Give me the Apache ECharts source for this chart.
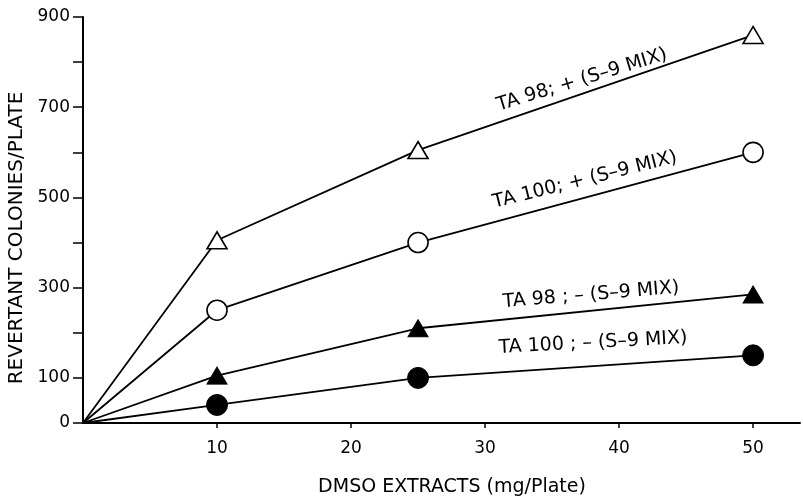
<!DOCTYPE html>
<html><head><meta charset="utf-8">
<script src="https://cdn.jsdelivr.net/npm/echarts@6/dist/echarts.min.js"></script>
<style>html,body{margin:0;padding:0;background:#fff}#c{width:803px;height:498px}</style>
</head><body><div id="c"></div>
<script>
const doses = [0, 10, 25, 50];
const ta98Plus = [0, 405, 605, 860];
const ta100Plus = [0, 250, 400, 600];
const ta98Minus = [0, 105, 210, 285];
const ta100Minus = [0, 40, 100, 150];
const yLabels = [0, 100, 300, 500, 700, 900];
const seriesNames = ['TA 98; + (S–9 MIX)', 'TA 100; + (S–9 MIX)', 'TA 98 ; – (S–9 MIX)', 'TA 100 ; – (S–9 MIX)'];

const font = '"DejaVu Sans", "Open Sans", sans-serif';
function pts(vals) {
  return vals.map((v, i) => i === 0
    ? { value: [doses[i], v], symbol: 'none' }
    : { value: [doses[i], v] });
}
function mk(name, vals, sym, size, filled) {
  return {
    name, type: 'line', data: pts(vals), symbol: sym, symbolSize: size,
    showAllSymbol: true,
    lineStyle: { color: '#000', width: 1.8 },
    itemStyle: filled ? { color: '#000', borderColor: '#000', borderWidth: 1 }
                      : { color: '#fff', borderColor: '#000', borderWidth: 1.6 },
    z: 3, animation: false
  };
}
const chart = echarts.init(document.getElementById('c'));
chart.setOption({
  animation: false,
  grid: { left: 83, right: 3, top: 17, bottom: 75, containLabel: false, outerBoundsMode: 'none' },
  xAxis: {
    type: 'value', min: 0, max: 53.5, interval: 10,
    name: 'DMSO EXTRACTS (mg/Plate)', nameLocation: 'middle', nameGap: 55,
    nameTextStyle: { color: '#000', fontSize: 19, fontFamily: font, padding: [0, 0, 0, 21] },
    axisLine: { lineStyle: { color: '#000', width: 2 } },
    axisTick: { length: 5, lineStyle: { color: '#000', width: 1.5 } },
    axisLabel: { color: '#000', fontSize: 17, fontFamily: font, margin: 17, showMinLabel: false, showMaxLabel: false,
      formatter: v => v === 0 ? '' : String(v) },
    splitLine: { show: false }
  },
  yAxis: {
    type: 'value', min: 0, max: 900, interval: 100,
    name: 'REVERTANT COLONIES/PLATE', nameLocation: 'middle', nameGap: 55, nameRotate: 90,
    nameTextStyle: { color: '#000', fontSize: 20, fontFamily: font, padding: [0, 36, 0, 0] },
    axisLine: { show: true, lineStyle: { color: '#000', width: 2 } },
    axisTick: { show: true, length: 10, lineStyle: { color: '#000', width: 1.5 } },
    axisLabel: { color: '#000', fontSize: 17, fontFamily: font, margin: 13,
      formatter: v => yLabels.indexOf(v) >= 0 ? String(v) : '' },
    splitLine: { show: false }
  },
  series: [
    mk(seriesNames[0], ta98Plus, 'triangle', [20, 17], false),
    mk(seriesNames[1], ta100Plus, 'circle', 20, false),
    mk(seriesNames[2], ta98Minus, 'triangle', [20, 17], true),
    mk(seriesNames[3], ta100Minus, 'circle', 21, true)
  ],
  graphic: [
    { type: 'text', x: 582, y: 80, rotation: 17 * Math.PI / 180, style: { text: seriesNames[0], fill: '#000', font: '19px ' + font, align: 'center', verticalAlign: 'middle' } },
    { type: 'text', x: 585, y: 180, rotation: 14 * Math.PI / 180, style: { text: seriesNames[1], fill: '#000', font: '19px ' + font, align: 'center', verticalAlign: 'middle' } },
    { type: 'text', x: 591, y: 295, rotation: 4.7 * Math.PI / 180, style: { text: seriesNames[2], fill: '#000', font: '19px ' + font, align: 'center', verticalAlign: 'middle' } },
    { type: 'text', x: 593, y: 343, rotation: 3 * Math.PI / 180, style: { text: seriesNames[3], fill: '#000', font: '19px ' + font, align: 'center', verticalAlign: 'middle' } }
  ]
});
</script></body></html>
